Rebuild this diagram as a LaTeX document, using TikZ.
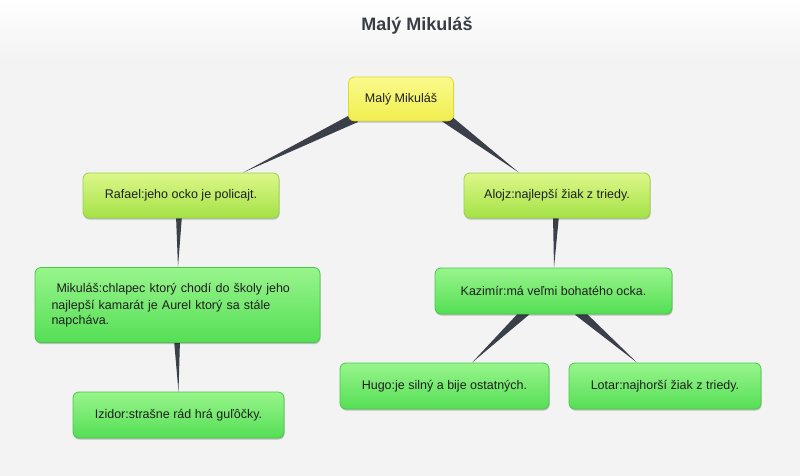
\documentclass[tikz,border=0pt]{standalone}
\usepackage{fontspec}
\setmainfont{Liberation Sans}
\usetikzlibrary{backgrounds,calc,shadows}
\definecolor{bggrey}{HTML}{F3F3F3}
\definecolor{titlecol}{HTML}{3A3D45}
\definecolor{wedgecol}{HTML}{3B3F4A}
\definecolor{yellowtop}{HTML}{FAFA8C}
\definecolor{yellowbot}{HTML}{F0EE4E}
\definecolor{yellowdraw}{HTML}{DCD83A}
\definecolor{limetop}{HTML}{DDF78A}
\definecolor{limebot}{HTML}{A4E246}
\definecolor{limedraw}{HTML}{98D04A}
\definecolor{greentop}{HTML}{98F58C}
\definecolor{greenbot}{HTML}{55DE55}
\definecolor{greendraw}{HTML}{48C84A}
\newcommand\taper[3]{\fill[wedgecol] ($#1!#3!90:#2$) -- ($#1!#3!-90:#2$) -- #2 -- cycle;}
\begin{document}
\begin{tikzpicture}[x=1pt,y=-1pt,
  box/.style={rounded corners=6pt, line width=0.8pt, inner sep=4pt,
    font=\fontsize{12.5}{14.5}\selectfont, text=black!88,
    drop shadow={shadow xshift=0.6pt, shadow yshift=-1.6pt, opacity=0.22, fill=black}},
  rootbox/.style={box, draw=yellowdraw, top color=yellowtop, bottom color=yellowbot},
  limebox/.style={box, draw=limedraw, top color=limetop, bottom color=limebot},
  greenbox/.style={box, draw=greendraw, top color=greentop, bottom color=greenbot}]
\useasboundingbox (0,0) rectangle (800,476);
\node[font=\bfseries\fontsize{18}{20}\selectfont, text=titlecol] (title) at (417,26) {Malý Mikuláš};
\node[rootbox, minimum width=105pt, minimum height=44pt] (root) at (401,99) {Malý Mikuláš};
\node[limebox, minimum width=196pt, minimum height=45pt] (rafael) at (181,195.5) {Rafael:jeho ocko je policajt.};
\node[limebox, minimum width=186pt, minimum height=45pt] (alojz) at (557,195.5) {Alojz:najlepší žiak z triedy.};
\node[greenbox, minimum width=285pt, minimum height=75pt, text width=252pt, align=left] (mik) at (177.5,305)
  {\vspace*{3pt}\hspace*{5pt}Mikuláš:chlapec ktorý chodí do školy jeho\\najlepší kamarát je Aurel ktorý sa stále\\napcháva.};
\node[greenbox, minimum width=237pt, minimum height=46pt] (kaz) at (553.5,291) {Kazimír:má veľmi bohatého ocka.};
\node[greenbox, minimum width=209pt, minimum height=46pt] (hugo) at (444.5,386) {Hugo:je silný a bije ostatných.};
\node[greenbox, minimum width=192pt, minimum height=46pt] (lotar) at (665,386) {Lotar:najhorší žiak z triedy.};
\node[greenbox, minimum width=211pt, minimum height=46pt] (izidor) at (178.5,415) {Izidor:strašne rád hrá guľôčky.};
\coordinate (w1a) at ($(root.south)+(-45,-4)$);
\coordinate (w1b) at ($(rafael.north)+(62,0)$);
\coordinate (w2a) at ($(root.south)+(44,-4)$);
\coordinate (w2b) at ($(alojz.north)+(-38,0)$);
\coordinate (w3a) at ($(rafael.south)+(-2,-3)$);
\coordinate (w3b) at ($(mik.north)+(0.5,0)$);
\coordinate (w4a) at ($(mik.south)+(-0.5,-3)$);
\coordinate (w4b) at (izidor.north);
\coordinate (w5a) at ($(alojz.south)+(-1,-3)$);
\coordinate (w5b) at ($(kaz.north)+(0.5,0)$);
\coordinate (w6a) at ($(kaz.south)+(-27.5,-3)$);
\coordinate (w6b) at ($(hugo.north)+(27.5,0)$);
\coordinate (w7a) at ($(kaz.south)+(24.5,-3)$);
\coordinate (w7b) at ($(lotar.north)+(-28,0)$);
\begin{scope}[on background layer]
  \fill[bggrey] (0,0) rectangle (800,476);
  \shade[top color=white, bottom color=bggrey] (0,0) rectangle (800,60);
  \taper{(w1a)}{(w1b)}{5pt}
  \taper{(w2a)}{(w2b)}{5pt}
  \taper{(w3a)}{(w3b)}{3pt}
  \taper{(w4a)}{(w4b)}{3pt}
  \taper{(w5a)}{(w5b)}{3pt}
  \taper{(w6a)}{(w6b)}{4.5pt}
  \taper{(w7a)}{(w7b)}{4.5pt}
\end{scope}
\end{tikzpicture}
\end{document}
